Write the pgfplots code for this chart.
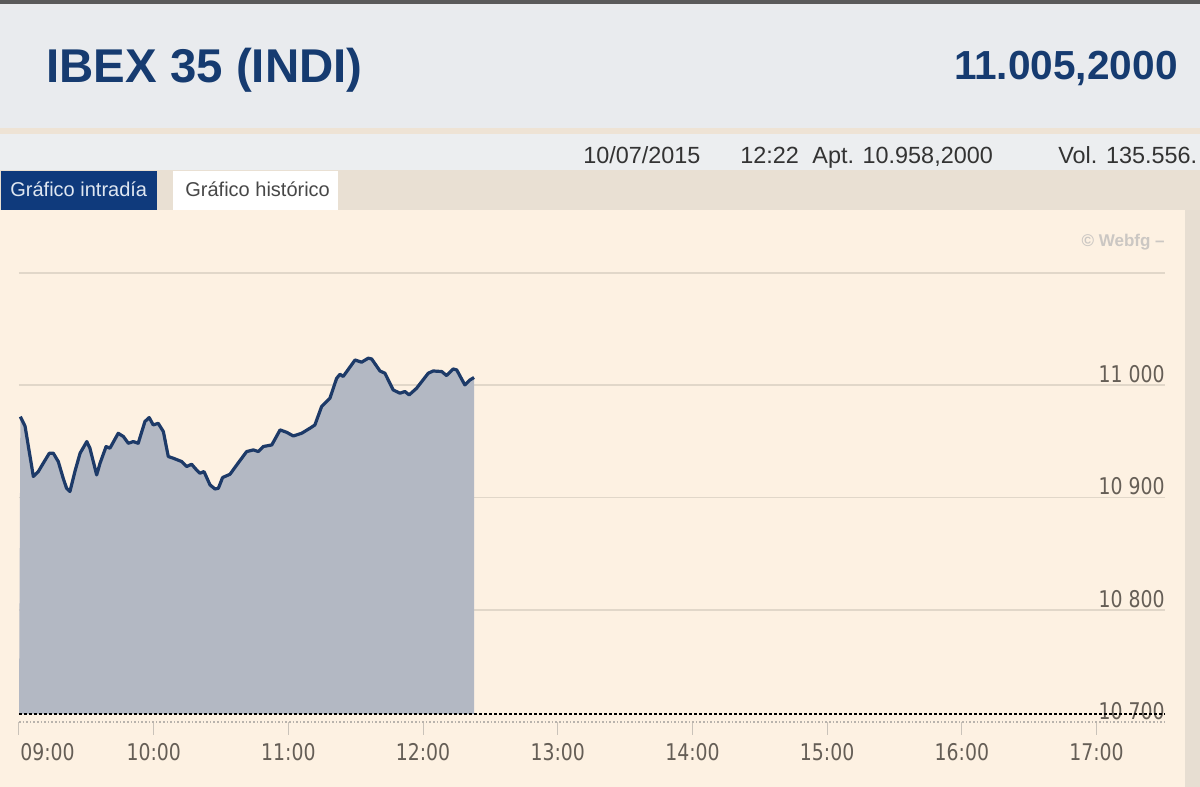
\documentclass[border=0pt]{standalone}
\usepackage{fontspec}
\setmainfont{Liberation Sans}
\newfontfamily\tickfont{DejaVu Sans}[FakeStretch=0.82]
\usepackage{pgfplots}
\pgfplotsset{compat=1.18}

\definecolor{topbar}{HTML}{5A5A5A}
\definecolor{headbg}{HTML}{E9EBEE}
\definecolor{beigeline}{HTML}{EEE3D5}
\definecolor{rowbg}{HTML}{ECEEF0}
\definecolor{tabband}{HTML}{E9E0D3}
\definecolor{tabblue}{HTML}{0F3A7C}
\definecolor{tabtext}{HTML}{DFE7F1}
\definecolor{panel}{HTML}{FDF1E2}
\definecolor{strip}{HTML}{E7DED2}
\definecolor{navy}{HTML}{163B70}
\definecolor{darktext}{HTML}{333333}
\definecolor{gridc}{HTML}{E1D7C9}
\definecolor{fillc}{HTML}{B3B8C3}
\definecolor{linec}{HTML}{1D3A68}
\definecolor{ticktext}{HTML}{655E56}
\definecolor{tickgray}{HTML}{C9C2B9}
\definecolor{axisgray}{HTML}{B9B3AC}
\definecolor{wm}{HTML}{CBC7C3}

% IBEX 35 intraday, 10/07/2015 -- x: minutes after 09:00
\pgfplotstableread{
min value
0.6   10972.0
2.7   10963.5
6.4   10918.7
8.6   10923.1
10.8  10930.5
13.5  10939.4
15.3  10939.4
17.5  10932.0
19.7  10917.1
21.2  10908.2
22.7  10905.3
24.9  10923.1
27.2  10939.4
30.2  10949.8
31.6  10943.9
34.6  10920.1
36.1  10930.5
38.8  10945.4
40.5  10943.9
44.2  10957.2
46.5  10954.3
48.7  10948.3
50.9  10949.8
53.1  10948.3
56.1  10967.7
58.0  10971.2
59.8  10964.6
62.0  10966.1
64.3  10958.8
66.5  10936.5
68.7  10935.0
72.5  10932.0
74.7  10927.6
76.9  10929.6
79.1  10924.5
80.6  10921.6
82.4  10923.1
85.1  10911.2
87.3  10907.6
88.8  10908.2
90.7  10917.8
94.0  10920.7
97.0  10929.0
101.4 10940.9
104.4 10942.4
106.6 10940.9
108.8 10945.4
112.6 10946.8
116.3 10960.2
119.2 10958.1
122.2 10954.8
125.9 10957.2
129.6 10961.7
131.8 10964.6
134.8 10981.0
138.5 10988.4
141.5 11006.2
143.0 11009.8
144.4 11007.8
149.7 11022.5
152.6 11020.5
155.6 11024.1
157.1 11023.4
160.8 11012.7
163.0 11010.7
166.7 10995.8
169.7 10992.9
171.9 10994.4
173.8 10991.4
177.1 10997.3
182.3 11010.7
184.5 11012.7
188.3 11012.2
190.5 11008.6
193.4 11014.5
195.0 11013.6
198.6 11000.3
200.9 11004.7
202.7 11006.9
}\ibex

\begin{document}
\begin{tikzpicture}[x=0.5pt, y=0.5pt]
    \useasboundingbox (0,0) rectangle (1200,787);
    % page blocks (pixel grid, y measured from the bottom)
    \fill[panel] (0,0) rectangle (1200,787);
    \fill[headbg] (0,659) rectangle (1200,783);
    \fill[topbar] (0,783) rectangle (1200,787);
    \fill[beigeline] (0,653) rectangle (1200,659);
    \fill[rowbg] (0,617) rectangle (1200,653);
    \fill[tabband] (0,577) rectangle (1200,617);
    \fill[tabblue] (1,577) rectangle (157,616);
    \fill[white] (173,577) rectangle (338,616);
    \fill[strip] (1185,0) rectangle (1200,577);

    \node[anchor=base west, inner sep=0pt, text=navy,
          font=\bfseries\fontsize{23.7}{28}\selectfont] at (46,704.7) {IBEX 35 (INDI)};
    \node[anchor=base east, inner sep=0pt, text=navy,
          font=\bfseries\fontsize{20.3}{24}\selectfont] at (1178,707) {11.005,2000};

    \begin{scope}[every node/.style={anchor=base west, inner sep=0pt, text=darktext,
                  font=\fontsize{11.7}{14}\selectfont}]
        \node at (583,623.7) {10/07/2015};
        \node at (740,623.7) {12:22};
        \node at (812,623.7) {Apt. 10.958,2000};
        \node at (1058,623.7) {Vol. 135.556.};
    \end{scope}

    \node[anchor=base west, inner sep=0pt, text=tabtext,
          font=\fontsize{10}{12}\selectfont] at (10,590.3) {Gráfico intradía};
    \node[anchor=base west, inner sep=0pt, text=darktext!90,
          font=\fontsize{10}{12}\selectfont] at (185,590.3) {Gráfico histórico};
    \node[anchor=east, inner sep=0pt, text=wm,
          font=\bfseries\fontsize{8.5}{10}\selectfont] at (1165,545) {© Webfg –};

    \begin{axis}[
            at={(9.5pt,32.5pt)}, anchor=south west,
            scale only axis,
            width=573pt, height=246pt,
            xmin=0, xmax=510.5,
            ymin=10700, ymax=11138.3,
            scaled y ticks=false,
            axis line style={draw=none},
            xtick={60,120,...,480},
            xticklabels={10:00,11:00,12:00,13:00,14:00,15:00,16:00,17:00},
            extra x ticks={0},
            extra x tick labels={09:00},
            extra x tick style={xticklabel style={anchor=north west, xshift=0.5pt}},
            xtick pos=bottom,
            xtick align=outside,
            major tick length=6.5pt,
            xtick style={draw=tickgray, line width=0.5pt},
            xticklabel style={anchor=north, inner sep=0pt, yshift=-4pt},
            ytick={10800,10900,11000,11100},
            yticklabels={10 800,10 900,11 000,{}},
            extra y ticks={10700},
            extra y tick labels={10 700},
            extra y tick style={major grid style={draw=axisgray, densely dotted, line width=0.8pt}},
            yticklabel pos=right,
            ytick style={draw=none},
            yticklabel style={anchor=south east, inner sep=0pt, yshift=1pt},
            ymajorgrids=true,
            grid style={draw=gridc, line width=0.8pt},
            tick label style={font=\tickfont\fontsize{11.5}{13}\selectfont, text=ticktext},
        ]
        \addplot[fill=fillc, draw=none] table[x=min, y=value] {\ibex}
            |- (axis cs:0,10707.1) -- cycle;
        \addplot[black, line width=0.8pt, dash pattern=on 1.5pt off 1pt]
            coordinates {(0,10707.1) (510.5,10707.1)};
        \addplot[linec, line width=1.6pt, line join=round] table[x=min, y=value] {\ibex};
    \end{axis}
\end{tikzpicture}
\end{document}
